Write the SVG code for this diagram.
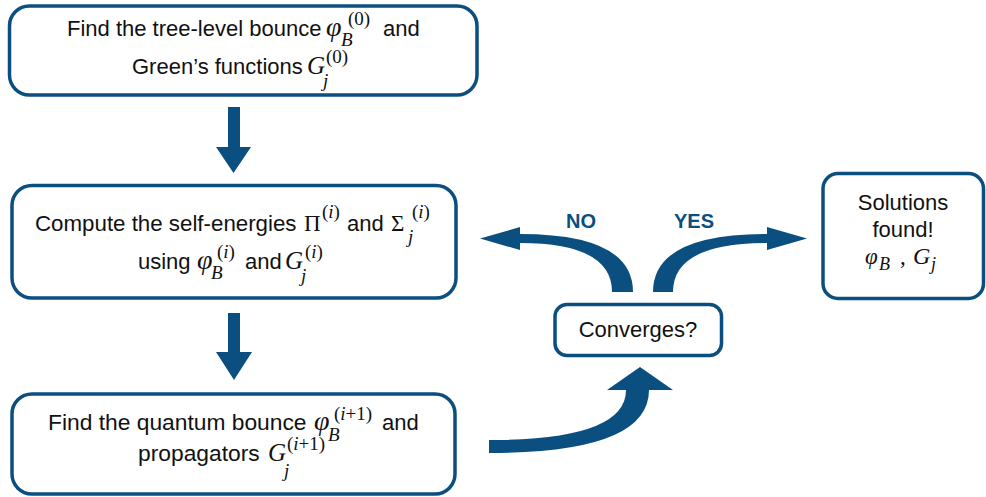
<svg xmlns="http://www.w3.org/2000/svg" width="986" height="497" viewBox="0 0 986 497">
<style>
.box{fill:#fff;stroke:#0a4f80;stroke-width:3.5}
.t{font-family:"Liberation Sans",Arial,sans-serif;font-size:22px;fill:#111}
.m{font-family:"Liberation Serif","Times New Roman",serif;font-style:italic;font-size:25px;fill:#111}
.phi{font-family:"Liberation Serif","Times New Roman",serif;font-style:italic;font-size:28px;fill:#111}
.mu{font-family:"Liberation Serif","Times New Roman",serif;font-size:23px;fill:#111}
.s{font-family:"Liberation Serif","Times New Roman",serif;font-size:19px;fill:#111}
.si{font-family:"Liberation Serif","Times New Roman",serif;font-style:italic;font-size:19px;fill:#111}
.lab{font-family:"Liberation Sans",Arial,sans-serif;font-weight:bold;font-size:20px;fill:#0a4f80}
.arr{fill:#0a4f80}
</style>
<g id="connectors">
<path class="arr" d="M228,107 L240,107 L240,147 L251,147 L233.5,173 L216,147 L228,147 Z"/>
<path class="arr" d="M228,313 L240,313 L240,352 L252,352 L234,380 L216,352 L228,352 Z"/>
<path class="arr" d="M489,440 Q626,440 626,390 L607,390 L640,367 L673,390 L649,390 Q649,453 489,453 Z"/>
<path class="arr" d="M612,292 Q612,243 520,243 L520,250 L480,238.5 L520,227 L520,234 Q633,234 633,292 Z"/>
<path class="arr" d="M653,292 Q653,234 767,234 L767,227 L807,238.5 L767,250 L767,243 Q673,243 673,292 Z"/>
<text class="lab" x="581" y="228" text-anchor="middle">NO</text>
<text class="lab" x="694" y="228" text-anchor="middle">YES</text>
</g>
<g id="node-tree">
<rect class="box" x="9.5" y="6" width="467.5" height="89" rx="20"/>
<text class="t" x="67" y="36">Find the tree-level bounce</text>
<text class="phi" x="326" y="36">φ</text>
<text class="s" x="348" y="25">(0)</text>
<text class="si" x="341" y="46">B</text>
<text class="t" x="383" y="36">and</text>
<text class="t" x="132" y="74">Green’s functions</text>
<text class="m" x="307" y="74">G</text>
<text class="s" x="326" y="63">(0)</text>
<text class="si" x="323" y="87">j</text>
</g>
<g id="node-self">
<rect class="box" x="12" y="185.5" width="444" height="112.5" rx="20"/>
<text class="t" x="35" y="231" style="font-size:22.3px">Compute the self-energies</text>
<text class="mu" x="304" y="231">Π</text>
<text class="s" x="322" y="218">(<tspan font-style="italic">i</tspan>)</text>
<text class="t" x="347" y="231">and</text>
<text class="mu" x="391" y="231">Σ</text>
<text class="s" x="412" y="218">(<tspan font-style="italic">i</tspan>)</text>
<text class="si" x="408" y="243">j</text>
<text class="t" x="138" y="269">using</text>
<text class="phi" x="197" y="269">φ</text>
<text class="s" x="217" y="258">(<tspan font-style="italic">i</tspan>)</text>
<text class="si" x="211" y="279">B</text>
<text class="t" x="245" y="269">and</text>
<text class="m" x="285" y="269">G</text>
<text class="s" x="305" y="258">(<tspan font-style="italic">i</tspan>)</text>
<text class="si" x="301" y="282">j</text>
</g>
<g id="node-quantum">
<rect class="box" x="12" y="394" width="443" height="100" rx="20"/>
<text class="t" x="48" y="430" style="font-size:22.8px">Find the quantum bounce</text>
<text class="phi" x="314" y="430">φ</text>
<text class="s" x="334" y="420">(<tspan font-style="italic">i</tspan>+1)</text>
<text class="si" x="328" y="441">B</text>
<text class="t" x="382" y="430">and</text>
<text class="t" x="138" y="461" style="font-size:22.8px">propagators</text>
<text class="m" x="268" y="461">G</text>
<text class="s" x="287" y="450">(<tspan font-style="italic">i</tspan>+1)</text>
<text class="si" x="284" y="477">j</text>
</g>
<g id="node-converges">
<rect class="box" x="555" y="304.5" width="166.5" height="51" rx="12"/>
<text class="t" x="638" y="337" text-anchor="middle">Converges?</text>
</g>
<g id="node-solutions">
<rect class="box" x="823" y="173.5" width="160.5" height="125" rx="15"/>
<text class="t" x="903" y="210" text-anchor="middle">Solutions</text>
<text class="t" x="903" y="237" text-anchor="middle">found!</text>
<text class="phi" x="865" y="264" style="font-size:23px">φ</text>
<text class="si" x="879" y="270" style="font-size:18px">B</text>
<text class="mu" x="900" y="264">,</text>
<text class="m" x="913" y="264" style="font-size:24px">G</text>
<text class="si" x="931" y="270" style="font-size:18px">j</text>
</g>
</svg>
